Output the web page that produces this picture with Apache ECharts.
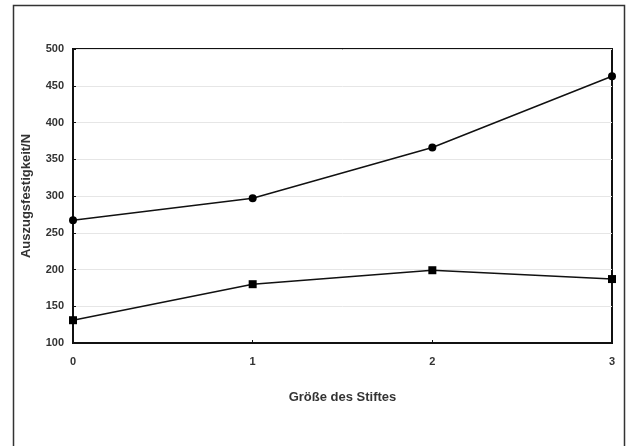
<!DOCTYPE html>
<html><head><meta charset="utf-8">
<script src="https://cdn.jsdelivr.net/npm/echarts@6/dist/echarts.min.js"></script>
<style>html,body{margin:0;padding:0;background:#fff}#c{width:627px;height:446px}</style>
</head><body><div id="c"></div>
<script>
const categories = [0, 1, 2, 3];
const seriesCircle = [267, 297, 366, 463];
const seriesSquare = [131, 180, 199, 187];
const yTicks = [100, 150, 200, 250, 300, 350, 400, 450, 500];
const xName = 'Größe des Stiftes';
const yName = 'Auszugsfestigkeit/N';

const chart = echarts.init(document.getElementById('c'));
const font = 'Liberation Sans, Arial, sans-serif';
chart.setOption({
  animation: false,
  backgroundColor: '#fff',
  graphic: [{
    type: 'rect', shape: {x: 13.5, y: 5.5, width: 611, height: 460},
    style: {fill: 'none', stroke: '#333', lineWidth: 1.5}, silent: true
  }],
  grid: {left: 73, right: 15, top: 49, bottom: 103, show: true, borderColor: '#111', borderWidth: 2, backgroundColor: 'transparent'},
  xAxis: {
    type: 'value', min: 0, max: 3, interval: 1,
    name: xName, nameLocation: 'middle', nameGap: 48,
    nameTextStyle: {fontFamily: font, fontWeight: 'bold', fontSize: 13, color: '#333'},
    axisLine: {show: true, lineStyle: {color: '#111', width: 2}},
    axisTick: {show: true, inside: true, length: 3, lineStyle: {color: '#111'}},
    axisLabel: {fontFamily: font, fontWeight: 'bold', fontSize: 11, color: '#333', margin: 13},
    splitLine: {show: false}
  },
  yAxis: {
    type: 'value', min: yTicks[0], max: yTicks[yTicks.length-1], interval: 50,
    name: yName, nameLocation: 'middle', nameGap: 40, nameRotate: 90,
    nameTextStyle: {fontFamily: font, fontWeight: 'bold', fontSize: 13, color: '#333'},
    axisLine: {show: true, lineStyle: {color: '#111', width: 2}},
    axisTick: {show: true, inside: true, length: 3, lineStyle: {color: '#111'}},
    axisLabel: {fontFamily: font, fontWeight: 'bold', fontSize: 11, color: '#333', margin: 9},
    splitLine: {show: true, lineStyle: {color: '#e6e6e6', width: 1}}
  },
  series: [
    {type: 'line', data: categories.map((c,i)=>[c, seriesCircle[i]]), symbol: 'circle', symbolSize: 8,
     lineStyle: {color: '#111', width: 1.5}, itemStyle: {color: '#000'}},
    {type: 'line', data: categories.map((c,i)=>[c, seriesSquare[i]]), symbol: 'rect', symbolSize: 8,
     lineStyle: {color: '#111', width: 1.5}, itemStyle: {color: '#000'}}
  ]
});
</script></body></html>
